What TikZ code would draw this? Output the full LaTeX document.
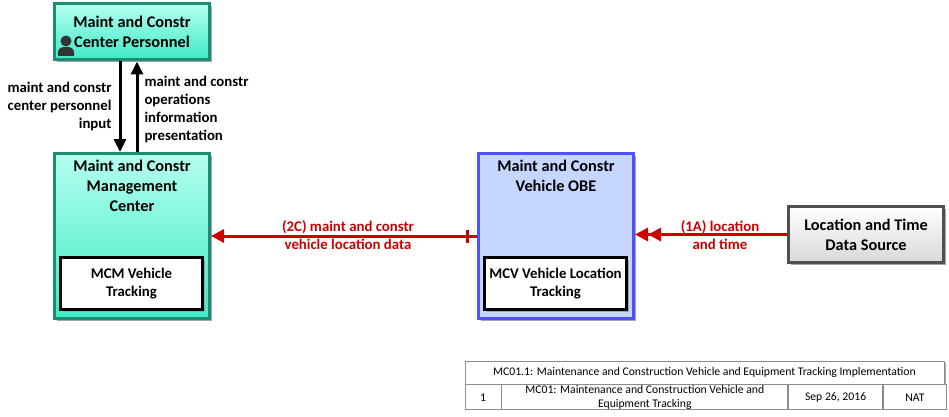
\documentclass[tikz,border=0pt]{standalone}
\usepackage{fontspec}
\setmainfont{Carlito}
\usetikzlibrary{arrows.meta,shadows}

\definecolor{tealedge}{HTML}{1E8C70}
\definecolor{teallight}{HTML}{B4FFEE}
\definecolor{tealdark}{HTML}{3EEBC6}
\definecolor{blueedge}{HTML}{5050FF}
\definecolor{bluefill}{HTML}{C6D6FF}
\definecolor{grayedge}{HTML}{505050}
\definecolor{flowred}{HTML}{CC0000}
\definecolor{tablegray}{HTML}{8C8C8C}

\tikzset{
  boxshadow/.style={drop shadow={shadow xshift=2pt,shadow yshift=-2pt,fill=black!35,opacity=1}},
  centerbox/.style={draw=tealedge,line width=3pt,top color=teallight,bottom color=tealdark,boxshadow,
    minimum width=155pt,anchor=center,align=center,inner sep=0pt},
  vehiclebox/.style={draw=blueedge,line width=3pt,fill=bluefill,boxshadow,minimum width=155pt,inner sep=0pt},
  sourcebox/.style={draw=grayedge,line width=3pt,top color=white,bottom color=black!15,boxshadow,
    minimum width=155pt,minimum height=56pt,align=center,inner sep=0pt},
  innerbox/.style={draw=black,line width=3pt,fill=white,boxshadow,minimum width=142pt,minimum height=52pt,
    align=center,inner sep=0pt},
  titletext/.style={font=\bfseries\fontsize{16.3}{20}\selectfont,align=center},
  flowlabel/.style={font=\bfseries\fontsize{14.8}{18}\selectfont},
  redlabel/.style={flowlabel,text=flowred,align=center},
  blackflow/.style={line width=3pt,-{Triangle[length=13pt,width=12pt]}},
  redflow/.style={line width=3pt,draw=flowred,-{Triangle[length=13pt,width=13pt]}},
  cell/.style={draw=tablegray,line width=0.8pt,fill=white,inner sep=0pt,align=center,
    font=\fontsize{11.7}{14}\selectfont},
}

\begin{document}
\begin{tikzpicture}[x=1pt,y=-1pt]
  \useasboundingbox (0,0) rectangle (949,417);

  \node[centerbox,minimum height=56pt,font=\bfseries\fontsize{16.3}{20}\selectfont] (pers) at (132,32) {Maint and Constr\\Center Personnel};
  \fill[black!80] (66,41) circle (5.5);
  \fill[black!80] (58,56) -- (58,53) .. controls (58,48) and (61,47) .. (66,47) .. controls (71,47) and (74,48) .. (74,53) -- (74,56) -- cycle;

  \node[centerbox,minimum height=165pt] (mcm) at (132,236) {};
  \node[titletext,anchor=north] (mcmtitle) at (132,157) {Maint and Constr\\Management\\Center};
  \node[innerbox,font=\bfseries\fontsize{14.8}{18}\selectfont] (mcmtrack) at (131.5,283.5) {MCM Vehicle\\Tracking};

  \node[vehiclebox,minimum height=165pt] (obe) at (556,236) {};
  \node[titletext,anchor=north] (obetitle) at (556,157) {Maint and Constr\\Vehicle OBE};
  \node[innerbox,font=\bfseries\fontsize{14.8}{18}\selectfont] (obetrack) at (555.5,283.5) {MCV Vehicle Location\\Tracking};

  \node[sourcebox,font=\bfseries\fontsize{16.3}{20}\selectfont] (loc) at (866,234.5) {Location and Time\\Data Source};

  \draw[blackflow] ([xshift=-12pt]pers.south) -- ([xshift=-12pt]mcm.north);
  \draw[blackflow] ([xshift=5pt]mcm.north) -- ([xshift=5pt]pers.south);
  \node[flowlabel,align=right,anchor=east] (inlabel) at (115,106) {maint and constr\\center personnel\\input};
  \node[flowlabel,align=left,anchor=west] (outlabel) at (141,109) {maint and constr\\operations\\information\\presentation};

  \draw[redflow] (obe.west) -- (mcm.east);
  \draw[flowred,line width=3pt] ([xshift=-10pt,yshift=-6.5pt]obe.west) -- ([xshift=-10pt,yshift=6.5pt]obe.west);
  \node[redlabel] (vldlabel) at (348,235) {(2C) maint and constr\\vehicle location data};

  \draw[redflow,-{Triangle[length=13pt,width=13pt]Triangle[length=13pt,width=13pt]}] (loc.west) -- (loc.west -| obe.east);
  \node[redlabel] (ltlabel) at (720,235) {(1A) location\\and time};

  \node[cell,minimum width=479pt,minimum height=23pt,boxshadow] (tabtitle) at (704.5,372.5) {MC01.1: Maintenance and Construction Vehicle and Equipment Tracking Implementation};
  \node[cell,minimum width=36pt,minimum height=25pt,anchor=north west] (tabnum) at (tabtitle.south west) {1};
  \node[cell,minimum width=286pt,minimum height=25pt,anchor=north west] (tabname) at (tabnum.north east) {MC01: Maintenance and Construction Vehicle and\\Equipment Tracking};
  \node[cell,minimum width=94pt,minimum height=25pt,anchor=north west] (tabdate) at (tabname.north east) {Sep 26, 2016};
  \node[cell,minimum width=63pt,minimum height=25pt,anchor=north west] (tabnat) at (tabdate.north east) {NAT};
\end{tikzpicture}
\end{document}
